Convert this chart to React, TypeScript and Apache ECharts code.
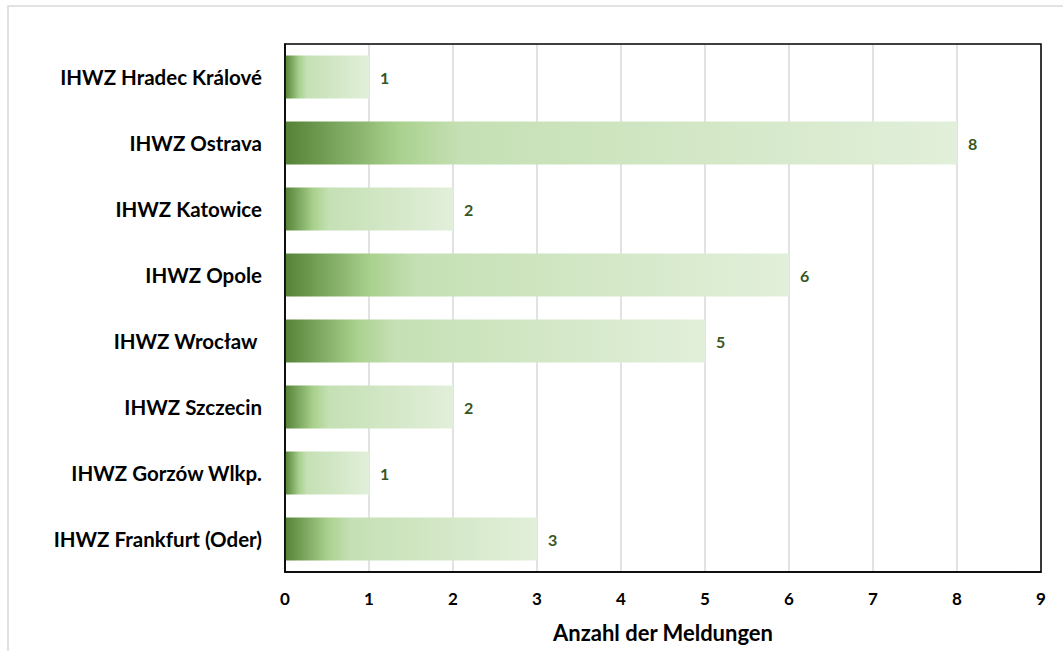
import React, { useEffect, useRef } from "react";
import * as echarts from "echarts";

const categories = [
  "IHWZ Hradec Králové",
  "IHWZ Ostrava",
  "IHWZ Katowice",
  "IHWZ Opole",
  "IHWZ Wrocław ",
  "IHWZ Szczecin",
  "IHWZ Gorzów Wlkp.",
  "IHWZ Frankfurt (Oder)",
];
const values = [1, 8, 2, 6, 5, 2, 1, 3];
const xTicks = [0, 1, 2, 3, 4, 5, 6, 7, 8, 9];
const axisTitle = "Anzahl der Meldungen";

const FONT = "Lato, 'Open Sans', sans-serif";

export default function App() {
  const ref = useRef<HTMLDivElement>(null);
  useEffect(() => {
    document.body.style.margin = "0";
    if (!ref.current) return;
    const chart = echarts.init(ref.current, undefined, { renderer: "svg" });
    const gradient = new echarts.graphic.LinearGradient(0, 0, 1, 0, [
      { offset: 0, color: "#548235" },
      { offset: 0.17, color: "#a9d18e" },
      { offset: 0.26, color: "#c5e0b4" },
      { offset: 1, color: "#e2efda" },
    ]);
    chart.setOption({
      animation: false,
      backgroundColor: "#ffffff",
      textStyle: { fontFamily: FONT },
      graphic: [
        {
          type: "rect",
          shape: { x: 8, y: 6, width: 1200, height: 800 },
          style: { fill: "none", stroke: "#d9d9d9", lineWidth: 1.5 },
          silent: true,
          z: -1,
        },
      ],
      grid: {
        left: 285,
        top: 44,
        right: 22,
        bottom: 79,
        show: true,
        borderColor: "#000000",
        borderWidth: 1.5,
        backgroundColor: "transparent",
        z: 5,
      },
      xAxis: {
        type: "value",
        min: xTicks[0],
        max: xTicks[xTicks.length - 1],
        interval: 1,
        name: axisTitle,
        nameLocation: "middle",
        nameGap: 49,
        nameTextStyle: { fontFamily: FONT, fontWeight: "bold", fontSize: 22, color: "#000" },
        axisLine: { show: true, lineStyle: { color: "#000", width: 1.5 } },
        axisTick: { show: false },
        axisLabel: { fontFamily: FONT, fontWeight: "bold", fontSize: 17, color: "#000", margin: 18 },
        splitLine: { show: true, lineStyle: { color: "#d9d9d9", width: 1.5 } },
      },
      yAxis: {
        type: "category",
        data: categories,
        inverse: true,
        axisLine: { show: true, lineStyle: { color: "#000", width: 1.5 } },
        axisTick: { show: false },
        axisLabel: { fontFamily: FONT, fontWeight: "bold", fontSize: 20.5, color: "#000", margin: 23 },
        splitLine: { show: false },
      },
      series: [
        {
          type: "bar",
          data: values,
          barCategoryGap: "35%",
          itemStyle: { color: gradient },
          label: {
            show: true,
            position: "right",
            distance: 11,
            fontFamily: FONT,
            fontWeight: "bold",
            fontSize: 16,
            color: "#375623",
          },
        },
      ],
    });
    return () => chart.dispose();
  }, []);
  return <div ref={ref} style={{ width: 1063, height: 651 }} />;
}
